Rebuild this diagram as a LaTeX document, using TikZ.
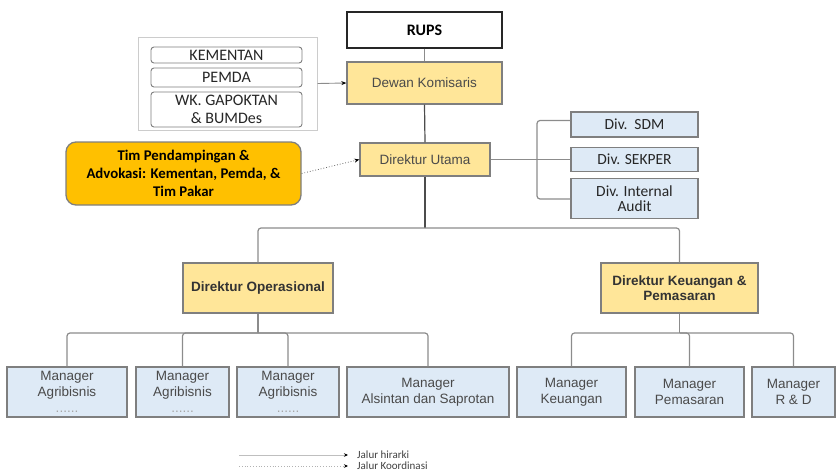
\documentclass[tikz,border=0pt]{standalone}
\usepackage{fontspec}
\setmainfont{Carlito}
\newfontfamily\arialf{Liberation Sans}
\usetikzlibrary{arrows.meta}
\definecolor{boxyellow}{HTML}{FFE699}
\definecolor{boxblue}{HTML}{DEEAF6}
\definecolor{boxgold}{HTML}{FFC000}
\definecolor{edgegray}{HTML}{7F7F7F}
\definecolor{wiregray}{HTML}{8C8C8C}
\definecolor{textgray}{HTML}{4A4A4A}

\begin{document}
\begin{tikzpicture}[x=1pt,y=-1pt,
  basebox/.style={draw=edgegray, line width=1.3pt, align=center, inner sep=1pt},
  ybox/.style={basebox, fill=boxyellow},
  bbox/.style={basebox, fill=boxblue},
  wbox/.style={draw=edgegray, line width=0.9pt, rounded corners=3pt, fill=white, align=center, inner sep=0pt},
  wire/.style={draw=wiregray, line width=1.2pt, rounded corners=3pt},
  mainwire/.style={draw=black!70, line width=1.2pt},
  tip/.style={-{Stealth[length=5pt,width=4pt,black]}},
  calfont/.style={font=\fontsize{16}{18}\selectfont, text=black!85},
  arfont/.style={font=\arialf\fontsize{13.5}{16}\selectfont, text=textgray},
  arbold/.style={font=\arialf\bfseries\fontsize{13.5}{15}\selectfont, text=black!80},
  divfont/.style={font=\fontsize{15.5}{15}\selectfont, text=black!85},
  legendfont/.style={anchor=west, inner sep=0pt, font=\fontsize{11}{12}\selectfont, text=black!75},
]
\useasboundingbox (0,0) rectangle (837,474);

% top level
\node[draw=black!85, line width=1.3pt, fill=white, minimum width=155pt, minimum height=36pt,
      font=\bfseries\fontsize{16}{18}\selectfont] (rups) at (424.5,30) {RUPS};
\node[ybox, arfont, minimum width=155pt, minimum height=42pt] (dk) at (424.5,83) {Dewan Komisaris};

% stakeholder group
\node[draw=black!20, line width=1pt, fill=white, minimum width=179pt, minimum height=93pt] (grp) at (227.5,83.5) {};
\node[wbox, calfont, minimum width=151pt, minimum height=16pt] (kem) at (226.5,55) {KEMENTAN};
\node[wbox, calfont, minimum width=151pt, minimum height=19pt] (pem) at (226.5,77.5) {PEMDA};
\node[wbox, calfont, minimum width=151pt, minimum height=35pt] (wk) at (226.5,109.5) {WK. GAPOKTAN\\\& BUMDes};

% advisory team
\node[basebox, fill=boxgold, rounded corners=10pt, minimum width=235pt, minimum height=63pt,
      font=\bfseries\fontsize{14.8}{18}\selectfont] (tim) at (183.5,173.5)
      {Tim Pendampingan \&\\Advokasi: Kementan, Pemda, \&\\Tim Pakar};

% president director and divisions
\node[ybox, arfont, minimum width=130pt, minimum height=33pt] (du) at (425,159.5) {Direktur Utama};
\node[bbox, divfont, minimum width=127pt, minimum height=25pt] (sdm) at (634.5,124.5) {Div.\ \ SDM};
\node[bbox, divfont, minimum width=127pt, minimum height=24pt] (sek) at (634.5,159.5) {Div. SEKPER};
\node[bbox, divfont, minimum width=127pt, minimum height=40pt] (ia) at (634.5,198.5) {Div. Internal\\Audit};

% directors
\node[ybox, arbold, minimum width=150pt, minimum height=50pt] (dop) at (258,288) {Direktur Operasional};
\node[ybox, arbold, minimum width=157pt, minimum height=50pt] (dkp) at (679.5,288) {Direktur Keuangan \&\\Pemasaran};

% managers
\newcommand{\dotline}{\\{\color{black!35}......}}
\node[bbox, arfont, minimum width=120pt, minimum height=50pt] (m1) at (67,392) {Manager\\Agribisnis\dotline};
\node[bbox, arfont, minimum width=93pt, minimum height=50pt] (m2) at (182.5,392) {Manager\\Agribisnis\dotline};
\node[bbox, arfont, minimum width=102pt, minimum height=50pt] (m3) at (288,392) {Manager\\Agribisnis\dotline};
\node[bbox, arfont, minimum width=162pt, minimum height=50pt] (m4) at (428,392) {Manager\\Alsintan dan Saprotan};
\node[bbox, arfont, minimum width=109pt, minimum height=50pt] (m5) at (571.5,392) {Manager\\Keuangan};
\node[bbox, arfont, minimum width=109pt, minimum height=50pt] (m6) at (689.5,392) {Manager\\Pemasaran};
\node[bbox, arfont, minimum width=83pt, minimum height=50pt] (m7) at (793.5,392) {Manager\\R \& D};

% hierarchy connectors
\draw[wire] (rups.south) -- (dk.north);
\draw[mainwire] (dk.south) -- (du.north);
\coordinate (split) at (425,228);
\draw[mainwire] (du.south) -- (split);
\draw[wire] (split) -| (dop.north);
\draw[wire] (split) -| (dkp.north);

\coordinate (brk) at (537,159.5);
\draw[wire] (du.east) -- (sek.west);
\draw[wire] ([yshift=4pt]sdm.west) -| (brk) |- ([yshift=-0.5pt]ia.west);

\coordinate (opsplit) at (258,333);
\draw[wire] (dop.south) -- (opsplit);
\draw[wire] (opsplit) -| (m1.north);
\draw[wire] (opsplit) -| (m2.north);
\draw[wire] (opsplit) -| (m3.north);
\draw[wire] (opsplit) -| (m4.north);

\coordinate (finsplit) at (679.5,333);
\draw[wire] (dkp.south) -- (finsplit);
\draw[wire] (finsplit) -| (m5.north);
\draw[wire] (finsplit) -| (m6.north);
\draw[wire] (finsplit) -| (m7.north);

% coordination connectors
\draw[wire, line width=0.9pt, tip] (grp.east) -- (dk.west);
\draw[draw=black!60, line width=0.8pt, dotted, tip] (tim.east) -- (du.west);

% legend
\node[legendfont] (lgh) at (357,455) {Jalur hirarki};
\node[legendfont] (lgk) at (357,466) {Jalur Koordinasi};
\coordinate (lgha) at (239,455);
\coordinate (lgka) at (239,466);
\draw[draw=black!25, line width=1pt, -{Stealth[length=4pt,width=3.5pt,black]}] (lgha) -- ([xshift=-9pt]lgh.west);
\draw[draw=black!30, line width=0.8pt, dotted, -{Stealth[length=4pt,width=3.5pt,black]}] (lgka) -- ([xshift=-9pt]lgk.west);
\end{tikzpicture}
\end{document}
